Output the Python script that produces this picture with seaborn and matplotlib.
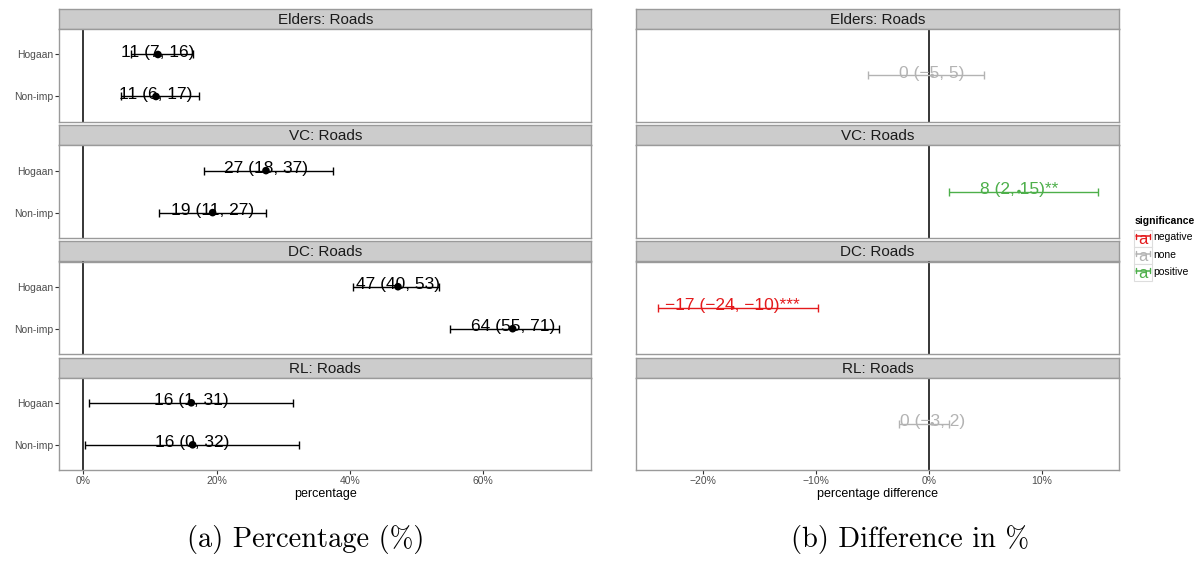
import matplotlib
matplotlib.use("Agg")
import matplotlib.pyplot as plt
from matplotlib.patches import Rectangle
from matplotlib.ticker import FixedLocator, FuncFormatter
import numpy as np
import pandas as pd
import seaborn as sns

# ---- data -------------------------------------------------------------
groups = ["Elders", "VC", "DC", "RL"]
sites = ["Hogaan", "Non-imp"]

# percentage (point estimate with interval), per group, per site
pct_est = [[11.2, 10.9], [27.4, 19.4], [47.2, 64.4], [16.2, 16.4]]
pct_lo = [[7.1, 5.6], [18.1, 11.4], [40.4, 55.0], [0.8, 0.3]]
pct_hi = [[16.4, 17.4], [37.4, 27.4], [53.4, 71.4], [31.4, 32.4]]

# difference Hogaan - Non-imp, per group
diff_est = [0.3, 8.0, -17.4, 0.3]
diff_lo = [-5.4, 1.8, -24.0, -2.6]
diff_hi = [4.9, 15.0, -9.8, 1.8]
diff_stars = ["", "**", "***", ""]
significance = ["none", "positive", "negative", "none"]

sig_levels = ["negative", "none", "positive"]
sig_colors = {"negative": "#E41A1C", "none": "#B3B3B3", "positive": "#4DAF4A"}

# ---- style ------------------------------------------------------------
sns.set_theme(style="white")
plt.rcParams["font.family"] = ["Liberation Sans", "DejaVu Sans"]
plt.rcParams["axes.unicode_minus"] = True

W, H = 1203, 561
fig = plt.figure(figsize=(W / 100, H / 100), dpi=100)


def box(x0, y0, x1, y1):
    return [x0 / W, 1 - y1 / H, (x1 - x0) / W, (y1 - y0) / H]


def fmt_num(v):
    r = int(round(v))
    return ("\u2212" if r < 0 else "") + str(abs(r))


def pct_fmt(v, _pos=None):
    r = int(round(v))
    return ("\u2212" if r < 0 else "") + f"{abs(r)}%"


LEFT = (59.3, 591.3)
RIGHT = (635.7, 1119.3)
STRIP_H = 20.0
PANEL_H = 92.4
STEP = 116.1
TOP0 = 9.3

tick_col = "#4D4D4D"
border_col = "#9A9A9A"
strip_fill = "#CCCCCC"


def make_panel(xr, i, xlim, ylim, show_x, show_y):
    top = TOP0 + STEP * i
    sax = fig.add_axes(box(xr[0], top, xr[1], top + STRIP_H))
    sax.set_facecolor(strip_fill)
    sax.set_xticks([])
    sax.set_yticks([])
    for s in sax.spines.values():
        s.set_color(border_col)
        s.set_linewidth(1.0)
    sax.text(0.5, 0.45, f"{groups[i]}: Roads", ha="center", va="center",
             fontsize=11, color="#1A1A1A", transform=sax.transAxes)

    ax = fig.add_axes(box(xr[0], top + STRIP_H, xr[1], top + STRIP_H + PANEL_H))
    ax.set_facecolor("white")
    for s in ax.spines.values():
        s.set_color(border_col)
        s.set_linewidth(1.0)
    ax.set_xlim(*xlim)
    ax.set_ylim(*ylim)
    ax.axvline(0, color="black", lw=1.1, zorder=1)
    ax.grid(False)
    ax.tick_params(axis="both", length=2.6, width=0.8, color="#333333",
                   labelcolor=tick_col, labelsize=7.5, pad=2.0)
    ax.tick_params(axis="x", bottom=show_x, labelbottom=show_x)
    ax.tick_params(axis="y", left=show_y, labelleft=show_y)
    return ax


# ---- left column: percentage -------------------------------------------
for i, g in enumerate(groups):
    ax = make_panel(LEFT, i, (-3.6, 76.2), (0.4, 2.6),
                    i == len(groups) - 1, True)
    ypos = [2, 1]  # Hogaan on top, Non-imp below
    df = pd.DataFrame({"site": sites, "y": ypos, "est": pct_est[i],
                       "lo": pct_lo[i], "hi": pct_hi[i]})
    ax.errorbar(df["est"], df["y"],
                xerr=[df["est"] - df["lo"], df["hi"] - df["est"]],
                fmt="none", ecolor="black", elinewidth=1.0,
                capsize=2.6, capthick=1.0, zorder=2)
    sns.scatterplot(data=df, x="est", y="y", ax=ax, color="black", s=30,
                    edgecolor="none", zorder=3, legend=False)
    for _, r in df.iterrows():
        ax.annotate(f"{fmt_num(r.est)} ({fmt_num(r.lo)}, {fmt_num(r.hi)})",
                    (r.est, r.y), xytext=(0, -1.5), textcoords="offset points",
                    ha="center", va="baseline", fontsize=12.5, color="black",
                    zorder=4)
    ax.yaxis.set_major_locator(FixedLocator(ypos))
    ax.set_yticklabels(sites)
    ax.xaxis.set_major_locator(FixedLocator([0, 20, 40, 60]))
    ax.xaxis.set_major_formatter(FuncFormatter(pct_fmt))
    ax.set_xlabel("")
    ax.set_ylabel("")
    if i == len(groups) - 1:
        ax.set_xlabel("percentage", fontsize=9, color="black", labelpad=1)

# ---- right column: difference -----------------------------------------
for i, g in enumerate(groups):
    ax = make_panel(RIGHT, i, (-26.0, 16.9), (0.4, 1.6),
                    i == len(groups) - 1, False)
    col = sig_colors[significance[i]]
    df = pd.DataFrame({"y": [1], "est": [diff_est[i]], "lo": [diff_lo[i]],
                       "hi": [diff_hi[i]], "sig": [significance[i]]})
    ax.errorbar(df["est"], df["y"],
                xerr=[df["est"] - df["lo"], df["hi"] - df["est"]],
                fmt="none", ecolor=col, elinewidth=1.0,
                capsize=2.6, capthick=1.0, zorder=2)
    sns.scatterplot(data=df, x="est", y="y", hue="sig", palette=sig_colors,
                    ax=ax, s=7, edgecolor="none", zorder=3, legend=False)
    label = (f"{fmt_num(diff_est[i])} ({fmt_num(diff_lo[i])}, "
             f"{fmt_num(diff_hi[i])}){diff_stars[i]}")
    ax.annotate(label, (diff_est[i], 1), xytext=(0, -1.5),
                textcoords="offset points", ha="center", va="baseline",
                fontsize=12.5, color=col, zorder=4)
    ax.set_yticks([])
    ax.xaxis.set_major_locator(FixedLocator([-20, -10, 0, 10]))
    ax.xaxis.set_major_formatter(FuncFormatter(pct_fmt))
    ax.set_xlabel("")
    ax.set_ylabel("")
    if i == len(groups) - 1:
        ax.set_xlabel("percentage difference", fontsize=9, color="black",
                      labelpad=1)

# ---- legend -----------------------------------------------------------
lax = fig.add_axes([0, 0, 1, 1], zorder=5)
lax.set_xlim(0, W)
lax.set_ylim(H, 0)
lax.axis("off")
lax.text(1134.5, 221, "significance", fontsize=7.5, fontweight="bold",
         ha="left", va="center", color="black")
for k, lev in enumerate(sig_levels):
    yc = 238.3 + 17.2 * k
    c = sig_colors[lev]
    lax.add_patch(Rectangle((1134.3, yc - 8.6), 17.2, 17.2, facecolor="white",
                            edgecolor="#DDDDDD", lw=0.8))
    lax.text(1143, yc + 1.0, "a", fontsize=12, color=c, ha="center",
             va="center")
    lax.plot([1136.3, 1149.7], [yc - 2.0, yc - 2.0], color=c, lw=1.1)
    lax.plot([1136.3, 1136.3], [yc - 4.5, yc + 0.5], color=c, lw=1.0)
    lax.plot([1149.7, 1149.7], [yc - 4.5, yc + 0.5], color=c, lw=1.0)
    lax.text(1153.5, yc - 1, lev, fontsize=7.5, ha="left", va="center",
             color="black")

# ---- sub-captions -----------------------------------------------------
fig.text(306 / W, 1 - 539 / H, "(a) Percentage (%)", family="cmr10",
         fontsize=20.5, ha="center", va="center", color="black")
fig.text(910 / W, 1 - 539 / H, "(b) Difference in %", family="cmr10",
         fontsize=20.5, ha="center", va="center", color="black")

fig.savefig("out.png", dpi=100, facecolor="white")
